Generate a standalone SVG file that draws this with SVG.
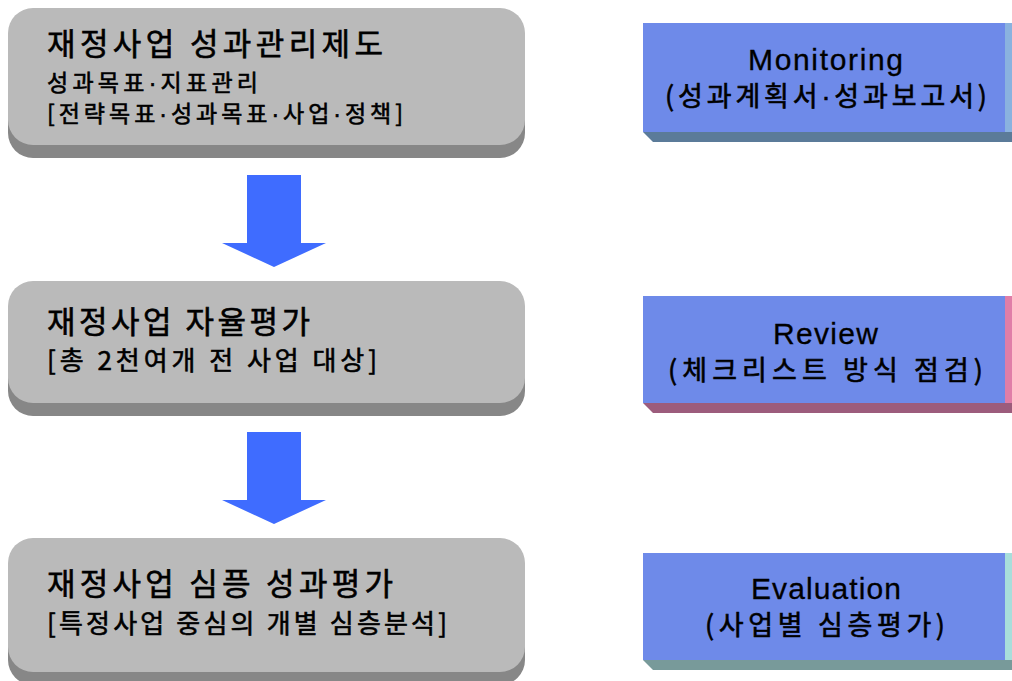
<svg xmlns="http://www.w3.org/2000/svg" width="1012" height="681" viewBox="0 0 1012 681">
<defs>
<style>
.gface{fill:#bababa}
.gshadow{fill:#878787}
.bface{fill:#6e8ae9}
.kt{font-family:"Noto Sans CJK KR","Noto Sans",sans-serif;fill:#000;stroke:#000;stroke-width:0.6px}
.lt{font-family:"Liberation Sans",Arial,sans-serif;fill:#000;stroke:#000;stroke-width:0.3px}
.dot{font-family:"Liberation Sans",Arial,sans-serif}
.t1{font-size:31px}
.t2{font-size:23px}
.t3{font-size:26px}
.rt{font-size:30px}
.rk{font-size:27px}
.arrow{fill:#3f6cff}
</style>
</defs>
<rect width="1012" height="681" fill="#ffffff"/>

<g id="node-performance-system">
<rect class="gshadow" x="8" y="21" width="517" height="137" rx="25"/>
<rect class="gface" x="8" y="8" width="517" height="137" rx="25"/>
<text class="kt t1" x="47" y="55" textLength="336" lengthAdjust="spacing">재정사업 성과관리제도</text>
<text class="kt t2" x="47" y="91" textLength="211" lengthAdjust="spacing">성과목표<tspan class="dot">·</tspan>지표관리</text>
<text class="kt t2" x="47" y="122" textLength="356" lengthAdjust="spacing">[전략목표<tspan class="dot">·</tspan>성과목표<tspan class="dot">·</tspan>사업<tspan class="dot">·</tspan>정책]</text>
</g>

<g id="node-self-evaluation">
<rect class="gshadow" x="8" y="294" width="517" height="122" rx="25"/>
<rect class="gface" x="8" y="281" width="517" height="122" rx="25"/>
<text class="kt t1" x="47" y="333" textLength="263" lengthAdjust="spacing">재정사업 자율평가</text>
<text class="kt t3" x="47" y="370" textLength="330" lengthAdjust="spacing">[총 2천여개 전 사업 대상]</text>
</g>

<g id="node-in-depth-evaluation">
<rect class="gshadow" x="8" y="551" width="517" height="134" rx="25"/>
<rect class="gface" x="8" y="538" width="517" height="134" rx="25"/>
<text class="kt t1" x="47" y="595" textLength="346" lengthAdjust="spacing">재정사업 심픙 성과평가</text>
<text class="kt t3" x="47" y="633" textLength="400" lengthAdjust="spacing">[특정사업 중심의 개별 심층분석]</text>
</g>

<g id="node-monitoring">
<polygon points="1005,23 1012,23 1012,142 1005,132" fill="#8ab2df"/>
<polygon points="643,132 1012,132 1012,142 653,142" fill="#5b7b99"/>
<rect class="bface" x="643" y="23" width="362" height="109"/>
<text class="lt rt" x="748" y="70" textLength="155" lengthAdjust="spacing">Monitoring</text>
<text class="kt rk" x="665" y="106" textLength="322" lengthAdjust="spacing">(성과계획서<tspan class="dot">·</tspan>성과보고서)</text>
</g>

<g id="node-review">
<polygon points="1005,296 1012,296 1012,413 1005,403" fill="#e07ea8"/>
<polygon points="643,403 1012,403 1012,413 653,413" fill="#9c5c7c"/>
<rect class="bface" x="643" y="296" width="362" height="107"/>
<text class="lt rt" x="773" y="344" textLength="105" lengthAdjust="spacing">Review</text>
<text class="kt rk" x="668" y="380" textLength="315" lengthAdjust="spacing">(체크리스트 방식 점검)</text>
</g>

<g id="node-evaluation">
<polygon points="1005,553 1012,553 1012,670 1005,660" fill="#a8dedb"/>
<polygon points="643,660 1012,660 1012,670 653,670" fill="#789a9a"/>
<rect class="bface" x="643" y="553" width="362" height="107"/>
<text class="lt rt" x="751" y="599" textLength="150" lengthAdjust="spacing">Evaluation</text>
<text class="kt rk" x="705" y="635" textLength="240" lengthAdjust="spacing">(사업별 심층평가)</text>
</g>

<g id="connectors">
<polygon class="arrow" points="247,175 301,175 301,243 326,243 274,267 222,243 247,243"/>
<polygon class="arrow" points="247,432 301,432 301,500 326,500 274,524 222,500 247,500"/>
</g>
</svg>
